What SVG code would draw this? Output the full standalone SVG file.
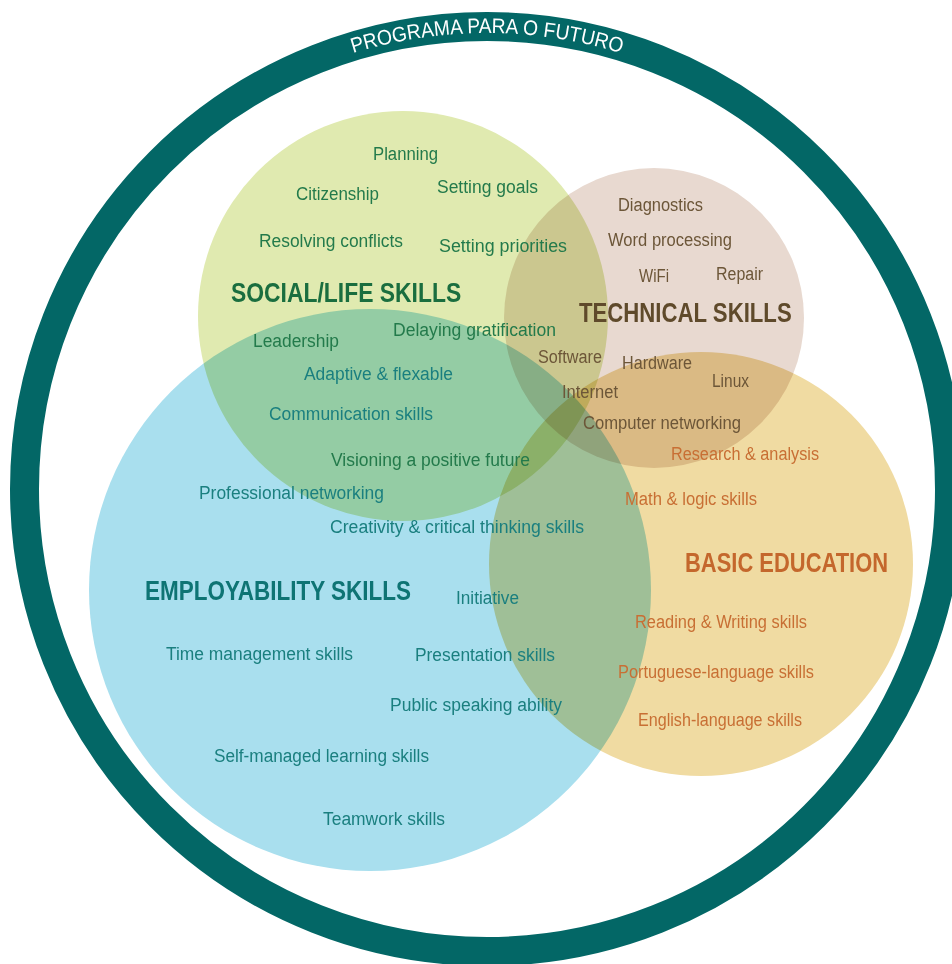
<svg xmlns="http://www.w3.org/2000/svg" width="952" height="964" viewBox="0 0 952 964">
<defs>
<style>
text{font-family:"Liberation Sans Narrow","Liberation Sans",Arial,sans-serif;font-size:18px}
.t{font-size:28px;font-weight:bold}
.c{mix-blend-mode:multiply}
.soc{fill:#237a4b}.emp{fill:#1a7f7f}.tec{fill:#6c5638}.bas{fill:#c86f34}
.tsoc{fill:#1a6e3f}.temp{fill:#0e7474}.ttec{fill:#5f4a2b}.tbas{fill:#c4672c}
</style>
<path id="arc" d="M31,489 A456,456 0 0 1 943,489"/>
</defs>
<rect width="952" height="964" fill="#ffffff"/>
<g id="ring">
<circle cx="487" cy="489" r="462.5" fill="none" stroke="#036766" stroke-width="29"/>
<text fill="#ffffff" style="font-size:21px"><textPath href="#arc" startOffset="50%" text-anchor="middle" textLength="272" lengthAdjust="spacingAndGlyphs">PROGRAMA PARA O FUTURO</textPath></text>
</g>
<g id="circles">
<circle id="c-social" class="c" cx="403" cy="316" r="205" fill="#e0eab0"/>
<circle id="c-tech" class="c" cx="654" cy="318" r="150" fill="#e8d9d0"/>
<circle id="c-basic" class="c" cx="701" cy="564" r="212" fill="#f0dba2"/>
<circle id="c-emp" class="c" cx="370" cy="590" r="281" fill="#a9dfee"/>
</g>
<g id="connectors"/>
<g id="social">
<text class="t tsoc" transform="translate(231,302) scale(0.818,1)">SOCIAL/LIFE SKILLS</text>
<text class="soc" x="373" y="160" textLength="65" lengthAdjust="spacingAndGlyphs">Planning</text>
<text class="soc" x="296" y="200" textLength="83" lengthAdjust="spacingAndGlyphs">Citizenship</text>
<text class="soc" x="437" y="193" textLength="101" lengthAdjust="spacingAndGlyphs">Setting goals</text>
<text class="soc" x="259" y="247" textLength="144" lengthAdjust="spacingAndGlyphs">Resolving conflicts</text>
<text class="soc" x="439" y="252" textLength="128" lengthAdjust="spacingAndGlyphs">Setting priorities</text>
<text class="soc" x="393" y="336" textLength="163" lengthAdjust="spacingAndGlyphs">Delaying gratification</text>
<text class="soc" x="253" y="347" textLength="86" lengthAdjust="spacingAndGlyphs">Leadership</text>
<text class="soc" x="331" y="466" textLength="199" lengthAdjust="spacingAndGlyphs">Visioning a positive future</text>
</g>
<g id="technical">
<text class="t ttec" transform="translate(579,322) scale(0.792,1)">TECHNICAL SKILLS</text>
<text class="tec" x="618" y="211" textLength="85" lengthAdjust="spacingAndGlyphs">Diagnostics</text>
<text class="tec" x="608" y="246" textLength="124" lengthAdjust="spacingAndGlyphs">Word processing</text>
<text class="tec" x="639" y="282" textLength="30" lengthAdjust="spacingAndGlyphs">WiFi</text>
<text class="tec" x="716" y="280" textLength="47" lengthAdjust="spacingAndGlyphs">Repair</text>
<text class="tec" x="538" y="363" textLength="64" lengthAdjust="spacingAndGlyphs">Software</text>
<text class="tec" x="622" y="369" textLength="70" lengthAdjust="spacingAndGlyphs">Hardware</text>
<text class="tec" x="712" y="387" textLength="37" lengthAdjust="spacingAndGlyphs">Linux</text>
<text class="tec" x="562" y="398" textLength="56" lengthAdjust="spacingAndGlyphs">Internet</text>
<text class="tec" x="583" y="429" textLength="158" lengthAdjust="spacingAndGlyphs">Computer networking</text>
</g>
<g id="basic">
<text class="t tbas" transform="translate(685,572) scale(0.784,1)">BASIC EDUCATION</text>
<text class="bas" x="671" y="460" textLength="148" lengthAdjust="spacingAndGlyphs">Research &amp; analysis</text>
<text class="bas" x="625" y="505" textLength="132" lengthAdjust="spacingAndGlyphs">Math &amp; logic skills</text>
<text class="bas" x="635" y="628" textLength="172" lengthAdjust="spacingAndGlyphs">Reading &amp; Writing skills</text>
<text class="bas" x="618" y="678" textLength="196" lengthAdjust="spacingAndGlyphs">Portuguese-language skills</text>
<text class="bas" x="638" y="726" textLength="164" lengthAdjust="spacingAndGlyphs">English-language skills</text>
</g>
<g id="employability">
<text class="t temp" transform="translate(145,600) scale(0.803,1)">EMPLOYABILITY SKILLS</text>
<text class="emp" x="304" y="380" textLength="149" lengthAdjust="spacingAndGlyphs">Adaptive &amp; flexable</text>
<text class="emp" x="269" y="420" textLength="164" lengthAdjust="spacingAndGlyphs">Communication skills</text>
<text class="emp" x="199" y="499" textLength="185" lengthAdjust="spacingAndGlyphs">Professional networking</text>
<text class="emp" x="330" y="533" textLength="254" lengthAdjust="spacingAndGlyphs">Creativity &amp; critical thinking skills</text>
<text class="emp" x="456" y="604" textLength="63" lengthAdjust="spacingAndGlyphs">Initiative</text>
<text class="emp" x="166" y="660" textLength="187" lengthAdjust="spacingAndGlyphs">Time management skills</text>
<text class="emp" x="415" y="661" textLength="140" lengthAdjust="spacingAndGlyphs">Presentation skills</text>
<text class="emp" x="390" y="711" textLength="172" lengthAdjust="spacingAndGlyphs">Public speaking ability</text>
<text class="emp" x="214" y="762" textLength="215" lengthAdjust="spacingAndGlyphs">Self-managed learning skills</text>
<text class="emp" x="323" y="825" textLength="122" lengthAdjust="spacingAndGlyphs">Teamwork skills</text>
</g>
</svg>
